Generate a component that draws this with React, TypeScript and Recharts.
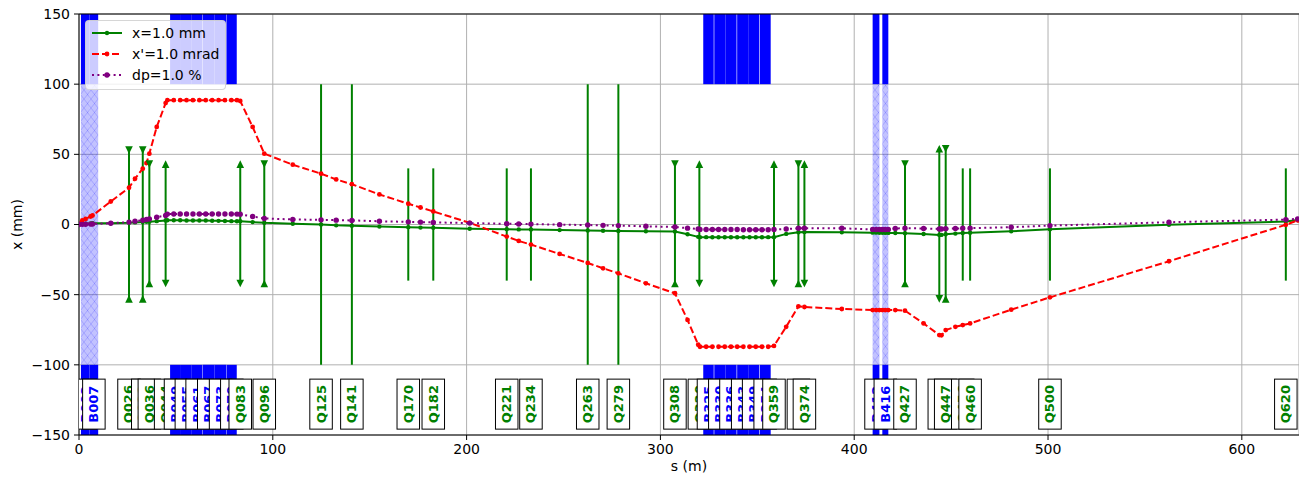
import {
  ComposedChart, Line, Scatter, XAxis, YAxis, CartesianGrid,
  ReferenceArea, ReferenceLine,
} from 'recharts';

const FONT = '"DejaVu Sans", sans-serif';
const GREEN = '#008000';
const RED = '#ff0000';
const PURPLE = '#800080';
const BLUE = '#0000ff';

// orbit samples along the line
const sPos = [
  0, 1.7, 3.4, 6.0, 7.0, 16.4, 25.8, 28.9, 32.9, 34.8, 36.3, 40.1, 44.7,
  45.6, 48.9, 52.2, 55.5, 58.8, 62.1, 65.4, 68.7, 72.0, 75.3, 78.6, 81.5, 83.2,
  89.6, 95.6, 110.3, 124.9, 132.7, 140.8, 155.0, 169.9, 176.2, 182.8, 201.6,
  220.7, 226.9, 233.2, 248.0, 262.5, 270.4, 278.3, 292.5, 307.5, 314.0, 319.5,
  320.4, 323.6, 326.8, 330.0, 333.2, 336.4, 339.6, 342.8, 346.0, 349.2, 352.4,
  355.6, 358.6, 364.9, 371.2, 374.3, 393.6, 409.5, 411.3, 413.0, 414.5, 416.0,
  417.6, 421.2, 426.2, 435.8, 443.9, 445.0, 447.2, 452.2, 456.0, 459.8, 481.0,
  501.0, 562.4, 622.7, 628.8,
];
const xVals = [
  0.3, 0.5, 0.6, 0.8, 0.9, 0.9, 1.2, 1.5, 1.7, 1.9, 2.0, 2.4, 2.9,
  3.0, 3.0, 3.0, 2.9, 2.9, 2.8, 2.8, 2.7, 2.6, 2.5, 2.4, 2.3, 2.3,
  1.7, 1.2, 0.5, 0.0, -0.6, -0.9, -1.5, -1.9, -2.2, -2.4, -3.0,
  -3.3, -3.5, -3.6, -4.0, -4.3, -4.5, -4.6, -4.8, -5.0, -7.0, -8.8,
  -9.0, -9.0, -9.1, -9.1, -9.1, -9.1, -9.1, -9.1, -9.1, -9.1, -9.1,
  -9.0, -9.0, -6.7, -5.5, -5.4, -5.6, -5.8, -5.8, -5.9, -5.9, -6.0,
  -6.0, -6.1, -6.2, -6.8, -7.4, -7.4, -7.0, -6.5, -6.1, -5.9, -4.8,
  -3.4, -0.2, 2.1, 3.2,
];
const xpVals = [
  0.5, 2.9, 4.0, 5.7, 6.4, 16.4, 26.2, 32.6, 39.8, 43.8, 50.5, 69.5, 86.5,
  88.6, 88.6, 88.6, 88.6, 88.6, 88.6, 88.6, 88.6, 88.6, 88.6, 88.6, 88.6, 88.0,
  69.5, 50.5, 42.6, 36.2, 32.1, 28.7, 21.4, 14.8, 12.1, 9.3, 1.2,
  -8.6, -11.7, -14.3, -21.0, -27.4, -31.2, -34.8, -41.9, -49.0, -68.0, -85.7,
  -87.1, -87.1, -87.1, -87.1, -87.1, -87.1, -87.1, -87.1, -87.1, -87.1, -87.1,
  -87.1, -86.5, -72.9, -58.3, -58.8, -60.2, -61.0, -61.0, -61.0, -61.0, -61.0,
  -61.0, -61.0, -61.4, -70.5, -78.8, -79.0, -75.2, -72.9, -71.7, -70.5, -60.7,
  -51.9, -26.2, -0.2, 3.0,
];
const dpVals = [
  0, 0.1, 0.2, 0.3, 0.4, 0.9, 1.7, 2.4, 3.0, 3.6, 4.0, 5.2, 6.4,
  7.4, 7.5, 7.5, 7.5, 7.5, 7.5, 7.5, 7.5, 7.5, 7.5, 7.5, 7.4, 7.3,
  5.7, 4.3, 3.6, 3.3, 3.1, 2.9, 2.3, 1.9, 1.7, 1.5, 1.0,
  0.5, 0.4, 0.3, -0.1, -0.4, -0.6, -0.8, -1.3, -1.8, -2.6, -3.2,
  -3.5, -3.6, -3.6, -3.6, -3.6, -3.6, -3.6, -3.7, -3.7, -3.7, -3.7,
  -3.7, -3.6, -3.2, -2.7, -2.6, -2.7, -3.5, -3.6, -3.6, -3.6, -3.6,
  -3.5, -2.8, -2.7, -2.8, -3.2, -3.2, -3.0, -2.9, -2.7, -2.6, -1.9,
  -0.8, 1.6, 3.5, 4.0,
];

// quadrupoles: 'out' = ▲ on top, 'in' = ▼ on top, '' = no arrows
const quadNames = [
  'Q026', 'Q032', 'Q036', 'Q044', 'Q083', 'Q096', 'Q125', 'Q141', 'Q170',
  'Q182', 'Q221', 'Q234', 'Q263', 'Q279', 'Q308', 'Q320', 'Q359', 'Q371',
  'Q374', 'Q427', 'Q444', 'Q447', 'Q456', 'Q460', 'Q500', 'Q620',
];
const quadS = [
  25.8, 32.9, 36.3, 44.7, 83.2, 95.6, 124.9, 140.8, 169.9,
  182.8, 220.7, 233.2, 262.5, 278.3, 307.5, 320.1, 358.6, 371.2,
  374.3, 426.2, 443.9, 447.2, 456.0, 459.8, 501.0, 622.7,
];
const quadTop = [
  53, 53, 43, 43, 43, 43, 100, 100, 40,
  40, 40, 40, 100, 100, 43, 43, 43, 43,
  43, 43, 54, 54, 40, 40, 40, 40,
];
const quadBottom = [
  -53, -53, -42, -42, -42, -42, -100, -100, -40,
  -40, -40, -40, -100, -100, -42, -42, -42, -42,
  -42, -42, -53, -53, -40, -40, -40, -40,
];
const quadArrow = [
  'in', 'in', 'in', 'out', 'out', 'in', '', '', '',
  '', '', '', '', '', 'in', 'out', 'out', 'in',
  'out', 'in', 'out', 'in', '', '', '', '',
];

// dipoles
const dipNames = [
  'B003', 'B007', 'B049', 'B055', 'B061', 'B067', 'B073', 'B079',
  'B325', 'B330', 'B336', 'B343', 'B349', 'B354', 'B412', 'B416',
];
const dipStart = [
  1.0, 5.45, 47.0, 52.6, 58.2, 63.9, 70.0, 76.3,
  322.1, 327.8, 333.5, 339.6, 345.3, 351.2, 409.5, 414.5,
];
const dipEnd = [
  5.45, 9.9, 52.6, 58.2, 63.7, 70.0, 76.1, 81.4,
  327.5, 333.5, 339.3, 345.3, 350.9, 356.9, 413.0, 417.6,
];
const dipHatched = [
  true, true, false, false, false, false, false, false,
  false, false, false, false, false, false, true, true,
];

const sTicks = [0, 100, 200, 300, 400, 500, 600];
const xTicks = [-150, -100, -50, 0, 50, 100, 150];

const S_MAX = 629.5;
const TAG_Y = -128;

const data = sPos.map((s, i) => ({ s, x: xVals[i], xp: xpVals[i], dp: dpVals[i] }));

const quads = quadNames.map((name, i) => ({
  name, s: quadS[i], top: quadTop[i], bottom: quadBottom[i], arrow: quadArrow[i],
}));

const quadEnds = quads.filter(q => q.arrow).flatMap(q => [
  { s: q.s, y: q.top, up: q.arrow === 'out' },
  { s: q.s, y: q.bottom, up: q.arrow !== 'out' },
]);

const dipoles = dipNames.map((name, i) => ({
  name, start: dipStart[i], end: dipEnd[i], hatched: dipHatched[i],
}));

const tags = [
  ...quads.map(q => ({ name: q.name, s: q.s, y: TAG_Y })),
  ...dipoles.map(d => ({ name: d.name, s: (d.start + d.end) / 2, y: TAG_Y })),
].sort((a, b) => a.s - b.s);

const fmt = (v: number) => (v < 0 ? `\u2212${Math.abs(v)}` : String(v));

const Triangle = (props: any) => {
  const { cx, cy, payload } = props;
  const h = 3.8;
  const pts = payload.up
    ? `${cx},${cy - h} ${cx - h},${cy + h} ${cx + h},${cy + h}`
    : `${cx},${cy + h} ${cx - h},${cy - h} ${cx + h},${cy - h}`;
  return <polygon points={pts} fill={GREEN} />;
};

const Tag = (props: any) => {
  const { cx, cy, payload } = props;
  const color = payload.name.startsWith('B') ? BLUE : GREEN;
  return (
    <g>
      <rect x={cx - 11.25} y={cy - 25} width={22.5} height={50} fill="#fff" stroke="#000" strokeWidth={1} />
      <text
        x={cx}
        y={cy}
        transform={`rotate(-90 ${cx} ${cy})`}
        textAnchor="middle"
        dominantBaseline="central"
        fill={color}
        fontWeight="bold"
        fontSize={13}
        fontFamily={FONT}
      >
        {payload.name}
      </text>
    </g>
  );
};

const legendRows = [
  { label: 'x=1.0 mm', color: GREEN, dash: undefined, r: 2.2 },
  { label: "x'=1.0 mrad", color: RED, dash: '7 3', r: 2.4 },
  { label: 'dp=1.0 %', color: PURPLE, dash: '2 3.4', r: 2.7 },
];

function LegendBox() {
  return (
    <div style={{
      position: 'absolute', left: 85, top: 20, width: 141, height: 70, zIndex: 2,
      background: 'rgba(255,255,255,0.8)', border: '1px solid rgba(204,204,204,0.8)',
      borderRadius: 4, boxSizing: 'border-box', fontFamily: FONT, fontSize: 14, color: '#000',
    }}>
      {legendRows.map((r, i) => (
        <div key={r.label} style={{ position: 'absolute', left: 0, top: 2 + i * 21, height: 20, display: 'flex', alignItems: 'center', whiteSpace: 'nowrap' }}>
          <svg width={46} height={20}>
            <line x1={6} x2={36} y1={10} y2={10} stroke={r.color} strokeWidth={2} strokeDasharray={r.dash} />
            <circle cx={21} cy={10} r={r.r} fill={r.color} />
          </svg>
          <span>{r.label}</span>
        </div>
      ))}
    </div>
  );
}

export default function App() {
  return (
    <div style={{ position: 'absolute', left: 0, top: 0, width: 1299, height: 481, background: '#fff' }}>
      <ComposedChart width={1299} height={481} data={data} margin={{ top: 14, right: 0, bottom: 6, left: 5 }}>
        <defs>
          <pattern id="hatch" width={7} height={9} patternUnits="userSpaceOnUse">
            <rect width={7} height={9} fill="rgba(0,0,255,0.24)" />
            <path d="M0,0 L7,9 M7,0 L0,9" stroke="rgba(0,0,255,0.16)" strokeWidth={1} />
          </pattern>
        </defs>
        <CartesianGrid stroke="#b0b0b0" strokeWidth={1} />
        {dipoles.map(d => (
          <ReferenceArea key={`t${d.name}`} x1={d.start} x2={d.end} y1={100} y2={150} fill={BLUE} fillOpacity={1} stroke="none" />
        ))}
        {dipoles.map(d => (
          <ReferenceArea key={`b${d.name}`} x1={d.start} x2={d.end} y1={-150} y2={-100} fill={BLUE} fillOpacity={1} stroke="none" />
        ))}
        {dipoles.filter(d => d.hatched).map(d => (
          <ReferenceArea key={`h${d.name}`} x1={d.start} x2={d.end} y1={-100} y2={100} fill="url(#hatch)" fillOpacity={1} stroke="none" />
        ))}
        <XAxis
          dataKey="s"
          type="number"
          domain={[0, S_MAX]}
          ticks={sTicks}
          allowDataOverflow
          stroke="#000"
          tick={{ fill: '#000', fontSize: 14, fontFamily: FONT }}
          tickSize={5}
          tickMargin={4}
          height={40}
          label={{ value: 's (m)', position: 'insideBottom', offset: 4, fill: '#000', fontSize: 14, fontFamily: FONT }}
        />
        <YAxis
          type="number"
          domain={[-150, 150]}
          ticks={xTicks}
          allowDataOverflow
          width={74}
          stroke="#000"
          tick={{ fill: '#000', fontSize: 14, fontFamily: FONT }}
          tickFormatter={fmt}
          tickSize={5}
          tickMargin={4}
          label={{ value: 'x (mm)', angle: -90, position: 'insideLeft', offset: 12, fill: '#000', fontSize: 14, fontFamily: FONT, style: { textAnchor: 'middle' } }}
        />
        <ReferenceLine y={150} stroke="#000" strokeWidth={1} />
        {quads.map(q => (
          <ReferenceLine key={q.name} segment={[{ x: q.s, y: q.top }, { x: q.s, y: q.bottom }]} stroke={GREEN} strokeWidth={2} />
        ))}
        <Line type="linear" dataKey="x" stroke={GREEN} strokeWidth={2} dot={{ r: 2.2, fill: GREEN, stroke: 'none' }} activeDot={false} isAnimationActive={false} />
        <Line type="linear" dataKey="xp" stroke={RED} strokeWidth={2} strokeDasharray="7 3" dot={{ r: 2.4, fill: RED, stroke: 'none' }} activeDot={false} isAnimationActive={false} />
        <Line type="linear" dataKey="dp" stroke={PURPLE} strokeWidth={2} strokeDasharray="2 3.4" dot={{ r: 2.7, fill: PURPLE, stroke: 'none' }} activeDot={false} isAnimationActive={false} />
        <Scatter data={quadEnds} dataKey="y" shape={Triangle} isAnimationActive={false} />
        <Scatter data={tags} dataKey="y" shape={Tag} isAnimationActive={false} />
      </ComposedChart>
      <LegendBox />
    </div>
  );
}
